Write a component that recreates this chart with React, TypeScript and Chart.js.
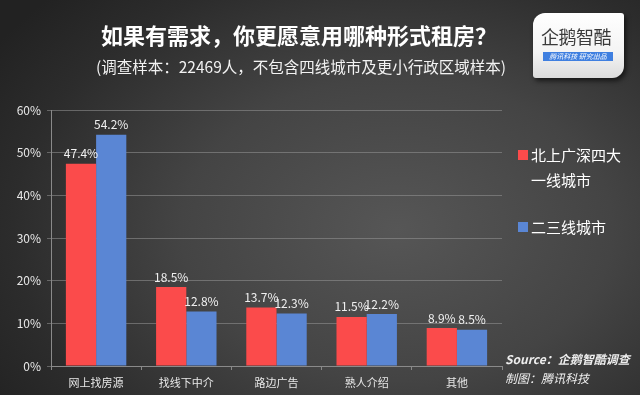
import React, { useEffect, useRef } from "react";
import { Chart, registerables } from "chart.js";

Chart.register(...registerables);

const categories = ["网上找房源", "找线下中介", "路边广告", "熟人介绍", "其他"];
const tier1Values = [47.4, 18.5, 13.7, 11.5, 8.9];
const tier23Values = [54.2, 12.8, 12.3, 12.2, 8.5];
const seriesNames = ["北上广深四大一线城市", "二三线城市"];
const legendLines = [["北上广深四大", "一线城市"], ["二三线城市"]];
const titleText = "如果有需求，你更愿意用哪种形式租房？";
const subtitleText = "(调查样本：22469人，不包含四线城市及更小行政区域样本)";
const sourceLines = ["Source：企鹅智酷调查", "制图：腾讯科技"];

const RED = "#fb4b4b";
const BLUE = "#5a86d4";
const FONT = "'Noto Sans CJK SC', 'Noto Sans', sans-serif";

const dataLabelPlugin = {
  id: "dataLabels",
  afterDatasetsDraw(chart: any) {
    const ctx = chart.ctx;
    ctx.save();
    ctx.font = `12px ${FONT}`;
    ctx.fillStyle = "#f0f0f0";
    ctx.textAlign = "center";
    ctx.textBaseline = "bottom";
    chart.data.datasets.forEach((ds: any, i: number) => {
      const meta = chart.getDatasetMeta(i);
      meta.data.forEach((el: any, j: number) => {
        ctx.fillText(ds.data[j].toFixed(1) + "%", el.x, el.y - 4);
      });
    });
    ctx.restore();
  },
};

export default function App() {
  const ref = useRef<HTMLCanvasElement>(null);
  useEffect(() => {
    if (!ref.current) return;
    const chart = new Chart(ref.current, {
      type: "bar",
      data: {
        labels: categories,
        datasets: [
          { label: seriesNames[0], data: tier1Values, backgroundColor: RED, barPercentage: 1, categoryPercentage: 0.67 },
          { label: seriesNames[1], data: tier23Values, backgroundColor: BLUE, barPercentage: 1, categoryPercentage: 0.67 },
        ],
      },
      options: {
        responsive: false,
        animation: false,
        layout: { padding: { left: 0, right: 138, top: 110, bottom: 0 } },
        plugins: { legend: { display: false }, tooltip: { enabled: false } },
        scales: {
          x: {
            grid: { drawOnChartArea: false, drawTicks: true, tickLength: 4, color: "#888", offset: true },
            border: { color: "#8a8a8a" },
            ticks: { color: "#e8e8e8", font: { family: FONT, size: 11 }, padding: 6 },
            afterFit: (s: any) => { s.height = 29; },
          },
          y: {
            min: 0,
            max: 60,
            ticks: { stepSize: 10, color: "#e8e8e8", font: { family: FONT, size: 12 }, padding: 6, callback: (v: any) => v + "%" },
            grid: { color: "rgba(150,150,150,0.55)", tickLength: 4 },
            border: { color: "#8a8a8a" },
            afterFit: (s: any) => { s.width = 51; },
          },
        },
      },
      plugins: [dataLabelPlugin],
    });
    return () => chart.destroy();
  }, []);

  return (
    <div
      style={{
        position: "fixed",
        left: 0,
        top: 0,
        width: 640,
        height: 395,
        overflow: "hidden",
        fontFamily: FONT,
        background: "radial-gradient(ellipse 75% 85% at 62% 58%, #565656 0%, #444 45%, #2c2c2c 80%, #222 100%)",
      }}
    >
      <div style={{ position: "absolute", left: 0, width: 598, top: 20, textAlign: "center", color: "#fff", fontWeight: 700, fontSize: 22, lineHeight: "28px" }}>
        {titleText}
      </div>
      <div style={{ position: "absolute", left: 0, width: 602, top: 54, textAlign: "center", color: "#f2f2f2", fontSize: 15.5, lineHeight: "24px" }}>
        {subtitleText}
      </div>
      {/* logo */}
      <div
        style={{
          position: "absolute",
          left: 533,
          top: 13,
          width: 91,
          height: 65,
          background: "linear-gradient(#ffffff 0%, #f4f4f4 60%, #dcdcdc 100%)",
          borderRadius: "12px 3px 12px 3px",
          boxShadow: "2px 3px 5px rgba(0,0,0,0.6)",
        }}
      >
        <div style={{ position: "absolute", left: 8, top: 12, fontSize: 18, lineHeight: "22px", color: "#3a3a3a", letterSpacing: -0.5 }}>企鹅智酷</div>
        <div style={{ position: "absolute", left: 10, top: 39, width: 70, height: 9, background: "#3f7fe0", color: "#fff", fontSize: 7, lineHeight: "9px", fontStyle: "italic", textAlign: "center", whiteSpace: "nowrap" }}>
          腾讯科技 研究出品
        </div>
      </div>
      <canvas ref={ref} width={640} height={395} style={{ position: "absolute", left: 0, top: 0 }} />
      {/* legend */}
      {legendLines.map((lines, i) => (
        <div key={i} style={{ position: "absolute", left: 516, top: i === 0 ? 143 : 215 }}>
          <div style={{ position: "absolute", left: 2, top: 7, width: 10, height: 10, background: i === 0 ? RED : BLUE }} />
          {lines.map((t, k) => (
            <div key={k} style={{ position: "absolute", left: 15, top: k * 25, fontSize: 15, lineHeight: "24px", color: "#fff", whiteSpace: "nowrap" }}>
              {t}
            </div>
          ))}
        </div>
      ))}
      {/* source */}
      {sourceLines.map((t, i) => (
        <div key={i} style={{ position: "absolute", left: 505, top: 349 + i * 19, fontSize: 12, lineHeight: "19px", color: "#eee", fontStyle: "italic", fontWeight: i === 0 ? 600 : 400, whiteSpace: "nowrap" }}>
          {t}
        </div>
      ))}
    </div>
  );
}
